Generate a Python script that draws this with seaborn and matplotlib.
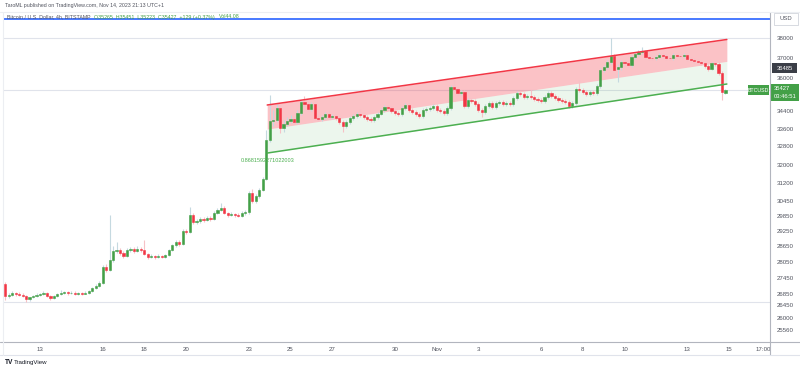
import numpy as np
import pandas as pd
import matplotlib
matplotlib.use("Agg")
import matplotlib.pyplot as plt
from matplotlib.lines import Line2D
from matplotlib.patches import Rectangle
import seaborn as sns

# ---------------- data (BTCUSD 4h, Bitstamp) ----------------
start_time = "2023-10-11 08:00"
opens = [27205, 26766, 26802, 26875, 26838, 26820, 26766, 26657, 26729, 26766,
         26802, 26838, 26875, 26766, 26693, 26766, 26838, 26875, 26911, 26875,
         26893, 26857, 26875, 26857, 26875, 26948, 27058, 27132, 27242, 27841,
         27728, 28107, 28453, 28491, 28376, 28261, 28491, 28530, 28453, 28530,
         28491, 28338, 28222, 28261, 28222, 28261, 28222, 28299, 28491, 28686,
         28803, 28725, 29237, 29197, 29879, 29596, 29636, 29717, 29676, 29757,
         29717, 29960, 30082, 30164, 29960, 29879, 29920, 29879, 29859, 29960,
         30001, 30786, 30453, 30661, 30911, 31377, 33084, 33949, 33995, 34554,
         33628, 33811, 33949, 34041, 33903, 34320, 34837, 34743, 34507, 34743,
         34088, 34041, 34134, 34274, 34134, 34181, 34088, 33903, 33719, 33903,
         34088, 34181, 34274, 34227, 34134, 34041, 33995, 34134, 34274, 34460,
         34601, 34554, 34413, 34320, 34274, 34554, 34696, 34460, 34367, 34274,
         34181, 34460, 34507, 34554, 34648, 34460, 34413, 34320, 34554, 35553,
         35457, 35265, 35313, 34648, 34931, 34884, 34743, 34460, 34367, 34648,
         34790, 34601, 34790, 34837, 34743, 34790, 34743, 35026, 35265, 35217,
         35074, 35122, 35074, 34979, 34931, 34884, 35074, 35265, 35122, 35026,
         34931, 34884, 34837, 34648, 34790, 35457, 35409, 35313, 35217, 35313,
         35265, 35602, 36384, 36533, 36782, 37084, 36434, 36533, 36782, 36732,
         36633, 37033, 37184, 37285, 37336, 37033, 36983, 36958, 37033, 37134,
         37084, 36983, 36958, 37134, 37084, 37058, 37134, 36932, 36882, 36832,
         36782, 36732, 36583, 36434, 36732, 36682, 36236, 35265]
highs = [27279, 26875, 26948, 26911, 26911, 26875, 26802, 26729, 26802, 26875,
         26875, 26948, 26911, 26802, 26802, 26875, 26984, 26948, 26948, 26948,
         26948, 26911, 26911, 26948, 26984, 27095, 27205, 27316, 27917, 27955,
         29879, 28647, 28803, 28569, 28453, 28569, 28608, 28608, 28647, 28608,
         28881, 28376, 28338, 28299, 28338, 28299, 28338, 28530, 28725, 28881,
         28881, 29316, 29316, 30205, 29960, 29717, 29798, 29798, 29838, 29838,
         30041, 30164, 30370, 30247, 30001, 30001, 29960, 29960, 30041, 30082,
         30869, 30953, 30744, 30996, 31462, 33536, 35169, 34460, 34743, 34696,
         33995, 34134, 34227, 34181, 34460, 34931, 35122, 34837, 34837, 34837,
         34181, 34227, 34367, 34367, 34274, 34274, 34134, 33995, 33995, 34181,
         34274, 34367, 34507, 34320, 34227, 34134, 34227, 34367, 34554, 34696,
         34696, 34648, 34507, 34413, 34648, 34790, 34790, 34554, 34460, 34367,
         34554, 34601, 34648, 34743, 34743, 34554, 34507, 34648, 35650, 35942,
         35553, 35409, 35409, 35026, 35026, 34979, 34837, 34554, 34743, 34884,
         34884, 34884, 34931, 34931, 34884, 34884, 35122, 35361, 35361, 35313,
         35217, 35409, 35169, 35074, 35026, 35169, 35361, 35361, 35217, 35122,
         35026, 34979, 34931, 34884, 35553, 35893, 35505, 35409, 35409, 35409,
         35699, 36484, 36633, 36882, 38000, 37184, 36682, 36882, 36882, 36832,
         37134, 37285, 37386, 37540, 37386, 37134, 37084, 37134, 37235, 37235,
         37184, 37084, 37235, 37235, 37184, 37235, 37235, 37033, 36983, 36932,
         36882, 36832, 36682, 36782, 36782, 36782, 36335, 35451]
lows = [26620, 26693, 26766, 26766, 26766, 26729, 26548, 26584, 26693, 26729,
        26766, 26802, 26729, 26620, 26657, 26729, 26802, 26838, 26802, 26838,
        26802, 26802, 26802, 26838, 26838, 26911, 27021, 27095, 27205, 27653,
        27690, 28031, 28376, 28299, 28184, 28222, 28414, 28376, 28414, 28414,
        28299, 28145, 28184, 28145, 28184, 28184, 28184, 28261, 28453, 28608,
        28647, 28686, 29118, 29158, 29516, 29516, 29556, 29596, 29636, 29636,
        29676, 29920, 30041, 29920, 29798, 29838, 29798, 29798, 29798, 29879,
        29920, 30370, 30370, 30577, 30869, 31334, 32994, 33719, 33903, 33400,
        33445, 33719, 33857, 33811, 33811, 34227, 34648, 34413, 34413, 33995,
        33949, 33949, 34041, 34041, 34041, 33995, 33811, 33445, 33628, 33811,
        33995, 34088, 34134, 34041, 33949, 33903, 33903, 34041, 34227, 34367,
        34460, 34320, 34227, 34181, 34181, 34460, 34367, 34274, 34181, 34088,
        34088, 34367, 34413, 34460, 34367, 34320, 34227, 34227, 34460, 35361,
        35169, 35169, 34554, 34554, 34790, 34648, 34367, 34134, 34274, 34554,
        34507, 34507, 34696, 34648, 34648, 34648, 34648, 34931, 35122, 34979,
        34979, 34979, 34884, 34837, 34790, 34790, 34979, 35026, 34931, 34837,
        34790, 34743, 34554, 34554, 34696, 35313, 35217, 35122, 35122, 35169,
        35169, 35505, 36286, 36434, 36682, 36384, 35796, 36384, 36583, 36533,
        36533, 36932, 37084, 37184, 36932, 36882, 36882, 36882, 36983, 36983,
        36882, 36882, 36882, 36983, 36983, 36983, 36832, 36782, 36732, 36682,
        36633, 36484, 36335, 36384, 36583, 36138, 34931, 35223]
closes = [26766, 26802, 26875, 26838, 26820, 26766, 26657, 26729, 26766, 26802,
          26838, 26875, 26766, 26693, 26766, 26838, 26875, 26911, 26875, 26893,
          26857, 26875, 26857, 26875, 26948, 27058, 27132, 27242, 27841, 27728,
          28107, 28453, 28491, 28376, 28261, 28491, 28530, 28453, 28530, 28491,
          28338, 28222, 28261, 28222, 28261, 28222, 28299, 28491, 28686, 28803,
          28725, 29237, 29197, 29879, 29596, 29636, 29717, 29676, 29757, 29717,
          29960, 30082, 30164, 29960, 29879, 29920, 29879, 29859, 29960, 30001,
          30786, 30453, 30661, 30911, 31377, 33084, 33949, 33995, 34554, 33628,
          33811, 33949, 34041, 33903, 34320, 34837, 34743, 34507, 34743, 34088,
          34041, 34134, 34274, 34134, 34181, 34088, 33903, 33719, 33903, 34088,
          34181, 34274, 34227, 34134, 34041, 33995, 34134, 34274, 34460, 34601,
          34554, 34413, 34320, 34274, 34554, 34696, 34460, 34367, 34274, 34181,
          34460, 34507, 34554, 34648, 34460, 34413, 34320, 34554, 35553, 35457,
          35265, 35313, 34648, 34931, 34884, 34743, 34460, 34367, 34648, 34790,
          34601, 34790, 34837, 34743, 34790, 34743, 35026, 35265, 35217, 35074,
          35122, 35074, 34979, 34931, 34884, 35074, 35265, 35122, 35026, 34931,
          34884, 34837, 34648, 34790, 35457, 35409, 35313, 35217, 35313, 35265,
          35602, 36384, 36533, 36782, 37084, 36384, 36533, 36782, 36732, 36633,
          37033, 37184, 37285, 37336, 37033, 36983, 36958, 37033, 37134, 37084,
          36983, 36958, 37134, 37084, 37058, 37134, 36932, 36882, 36832, 36782,
          36732, 36583, 36434, 36732, 36682, 36236, 35298, 35427]

# regression channel (anchor bar positions and prices)
chan_pos = [75.3, 207.4]
chan_upper = [34696, 37924]
chan_base = [33581, 36814]
chan_lower = [32505, 35699]
pearson_r = "0.8681592271022003"

hline_blue = 39000
hlines_gray = [38000, 35427, 26550]

y_ticks = [38000, 37000, 36000, 34400, 33600, 32800, 32000, 31200, 30450,
           29850, 29250, 28650, 28050, 27450, 26850, 26450, 26000, 25560]
x_tick_days = ["2023-10-13", "2023-10-16", "2023-10-18", "2023-10-20", "2023-10-23",
               "2023-10-25", "2023-10-27", "2023-10-30", "2023-11-01", "2023-11-03",
               "2023-11-06", "2023-11-08", "2023-11-10", "2023-11-13", "2023-11-15"]
x_tick_labels = ["13", "16", "18", "20", "23", "25", "27", "30", "Nov", "3",
                 "6", "8", "10", "13", "15"]

# ---------------- figure ----------------
sns.set_theme(style="white")
plt.rcParams["font.family"] = ["Liberation Sans", "DejaVu Sans"]

W, H = 800, 370
fig = plt.figure(figsize=(W / 100, H / 100), dpi=100)
fig.patch.set_facecolor("white")

def fx(px):
    return px / W

def fy(py):
    return 1 - py / H

ax = fig.add_axes([fx(3), fy(341), fx(770) - fx(3), fy(12) - fy(341)])
ax.set_facecolor("white")

df = pd.DataFrame({"time": pd.date_range(start_time, periods=len(closes), freq="4h"),
                   "open": opens, "high": highs, "low": lows, "close": closes})
df["pos"] = np.arange(len(df))
up = df["close"] >= df["open"]

UP, DOWN = "#43a047", "#f23645"
UP_W, DOWN_W = "#c5d9e0", "#f6c1c6"

# regression channel fills and lines
ax.fill_between(chan_pos, chan_base, chan_upper, color="#f23645", alpha=0.3, lw=0, zorder=1)
ax.fill_between(chan_pos, chan_lower, chan_base, color="#4caf50", alpha=0.1, lw=0, zorder=1)
chan_df = pd.DataFrame({"pos": chan_pos * 2,
                        "price": chan_upper + chan_lower,
                        "band": ["upper"] * 2 + ["lower"] * 2})
sns.lineplot(data=chan_df, x="pos", y="price", hue="band",
             palette={"upper": "#f23645", "lower": "#4caf50"},
             linewidth=1.1, legend=False, ax=ax, zorder=4)

# horizontal lines
ax.axhline(hline_blue, color="#2962ff", lw=1.2, zorder=2)
for v in hlines_gray:
    ax.axhline(v, color="#e0e3eb", lw=0.8, zorder=0.5)

# candles
ax.vlines(df["pos"], df["low"], df["high"],
          colors=np.where(up, UP_W, DOWN_W), lw=0.8, zorder=2)
body_bottom = np.minimum(df["open"], df["close"])
body_h = np.abs(df["close"] - df["open"])
ax.bar(df["pos"], body_h, bottom=body_bottom, width=0.62,
       color=np.where(up, UP, DOWN), edgecolor=np.where(up, UP, DOWN),
       linewidth=0.4, zorder=3)

# scales
ax.set_yscale("log")
ax.set_ylim(25184, 39366)
ax.set_xlim(-0.63, 219.8)
ax.minorticks_off()

ax.yaxis.tick_right()
ax.set_yticks(y_ticks)
ax.set_yticklabels([str(v) for v in y_ticks])
ax.tick_params(axis="y", length=0, pad=5, labelsize=4.4, colors="#50535e")

tick_pos = [(pd.Timestamp(d) - df["time"].iloc[0]) / pd.Timedelta("4h") for d in x_tick_days]
ax.set_xticks(list(tick_pos) + [217.8])
ax.set_xticklabels(x_tick_labels + ["17:00"])
ax.tick_params(axis="x", length=0, pad=4, labelsize=4.4, colors="#50535e")
ax.set_xlabel("")
ax.set_ylabel("")
for s in ax.spines.values():
    s.set_visible(False)

# Pearson's R label
ax.text(chan_pos[0], chan_lower[0] * 0.9935, pearson_r, color="#4caf50",
        fontsize=4.0, ha="center", va="top", zorder=5)

# frame lines
fig.add_artist(Line2D([fx(770), fx(770)], [fy(12), fy(355)], color="#b2b5be", lw=0.8))
fig.add_artist(Line2D([fx(0), fx(800)], [fy(341.5), fy(341.5)], color="#b2b5be", lw=0.8))
fig.add_artist(Line2D([fx(0), fx(800)], [fy(355), fy(355)], color="#e0e3eb", lw=0.8))
fig.add_artist(Line2D([fx(0), fx(800)], [fy(12), fy(12)], color="#eceef2", lw=0.8))
fig.add_artist(Line2D([fx(3), fx(3)], [fy(12), fy(355)], color="#eceef2", lw=0.8))

# header texts (chained so that pieces never overlap)
fig.text(fx(5), fy(6), "TaroML published on TradingView.com, Nov 14, 2023 21:13 UTC+1",
         fontsize=3.8, color="#50535e", va="center", ha="left")
renderer = fig.canvas.get_renderer()
pieces = [("Bitcoin / U.S. Dollar, 4h, BITSTAMP", "#50535e"),
          ("O35265  H35451  L35223  C35427  +129 (+0.37%)", "#43a047"),
          ("Vol44.08", "#43a047")]
xpix = 7
for txt, col in pieces:
    t = fig.text(fx(xpix), fy(17), txt, fontsize=3.8, color=col, va="center", ha="left")
    bb = t.get_window_extent(renderer=renderer)
    xpix = bb.x1 + 4

# right axis labels / boxes
fig.patches.append(Rectangle((fx(774), fy(25)), fx(24), fy(13) - fy(25),
                             transform=fig.transFigure, facecolor="white",
                             edgecolor="#d1d4dc", lw=0.6))
fig.text(fx(786), fy(19), "USD", fontsize=4.2, color="#50535e", ha="center", va="center")

fig.patches.append(Rectangle((fx(772), fy(73)), fx(25), fy(63) - fy(73),
                             transform=fig.transFigure, facecolor="#3b3e47",
                             edgecolor="none"))
fig.text(fx(784.5), fy(68), "36485", fontsize=4.2, color="white", ha="center", va="center")

fig.patches.append(Rectangle((fx(771), fy(101)), fx(28), fy(84) - fy(101),
                             transform=fig.transFigure, facecolor="#43a047",
                             edgecolor="none"))
fig.text(fx(774), fy(89), "35427", fontsize=4.2, color="white", ha="left", va="center")
fig.text(fx(774), fy(96), "03:46:51", fontsize=4.2, color="white", ha="left", va="center")

fig.patches.append(Rectangle((fx(748), fy(95)), fx(21), fy(85) - fy(95),
                             transform=fig.transFigure, facecolor="#43a047",
                             edgecolor="none"))
fig.text(fx(758.5), fy(90), "BTCUSD", fontsize=3.8, color="white", ha="center", va="center")

# TradingView logo
fig.text(fx(5), fy(362.5), "TV", fontsize=4.8, color="#131722", fontweight="bold",
         ha="left", va="center")
fig.text(fx(14), fy(362.5), "TradingView", fontsize=4.4, color="#131722",
         ha="left", va="center")

fig.savefig("out.png", dpi=100, facecolor="white")
